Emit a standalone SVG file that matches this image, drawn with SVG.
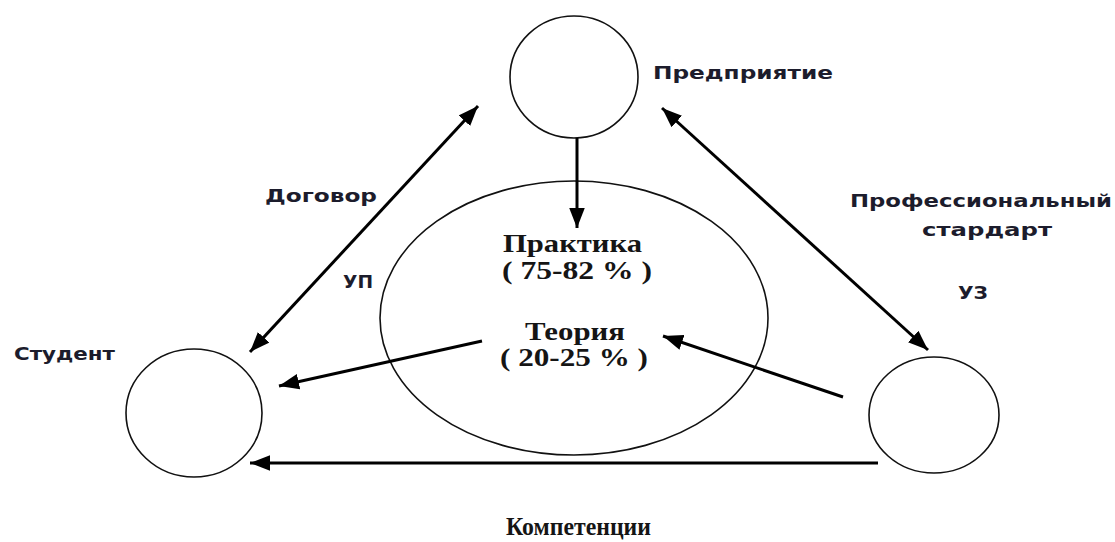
<svg xmlns="http://www.w3.org/2000/svg" width="1115" height="542" viewBox="0 0 1115 542">
<defs>
<style>
.s{font-family:"DejaVu Sans","Noto Sans",sans-serif;font-weight:bold;font-size:17px;fill:#1c1c2c}
.r{font-family:"Liberation Serif","DejaVu Serif",serif;font-weight:bold;font-size:25px;fill:#151515}
.c{fill:none;stroke:#111;stroke-width:1.6}
.a{stroke:#000;stroke-width:3;fill:none}
</style>
<marker id="ah" markerUnits="userSpaceOnUse" markerWidth="20" markerHeight="16" refX="18" refY="7" orient="auto-start-reverse" viewBox="0 0 18 14">
<path d="M0,0 L18,7 L0,14 z" fill="#000"/>
</marker>
</defs>
<rect width="1115" height="542" fill="#fff"/>
<g id="node-enterprise">
<ellipse class="c" cx="574" cy="77" rx="64" ry="61"/>
<text class="s" x="653" y="79" textLength="180" lengthAdjust="spacingAndGlyphs">Предприятие</text>
</g>
<g id="node-center">
<ellipse class="c" cx="574" cy="318" rx="194" ry="137"/>
<text class="r" x="503" y="252" textLength="139" lengthAdjust="spacingAndGlyphs">Практика</text>
<text class="r" x="502" y="279" textLength="150" lengthAdjust="spacingAndGlyphs">( 75-82 % )</text>
<text class="r" x="525" y="340" textLength="100" lengthAdjust="spacingAndGlyphs">Теория</text>
<text class="r" x="500" y="366" textLength="148" lengthAdjust="spacingAndGlyphs">( 20-25 % )</text>
</g>
<g id="node-student">
<ellipse class="c" cx="194" cy="413" rx="68" ry="64"/>
<text class="s" x="14" y="360" textLength="101" lengthAdjust="spacingAndGlyphs">Студент</text>
</g>
<g id="node-uz">
<ellipse class="c" cx="934" cy="415" rx="65" ry="58"/>
<text class="s" x="958" y="299" textLength="30" lengthAdjust="spacingAndGlyphs">УЗ</text>
</g>
<g id="connectors">
<line class="a" x1="478" y1="106" x2="250" y2="352" marker-start="url(#ah)" marker-end="url(#ah)"/>
<line class="a" x1="662" y1="108" x2="928" y2="350" marker-start="url(#ah)" marker-end="url(#ah)"/>
<line class="a" x1="577" y1="138" x2="577" y2="228" marker-end="url(#ah)"/>
<line class="a" x1="482" y1="341" x2="279" y2="386" marker-end="url(#ah)"/>
<line class="a" x1="843" y1="397" x2="663" y2="336" marker-end="url(#ah)"/>
<line class="a" x1="878" y1="463" x2="250" y2="463" marker-end="url(#ah)"/>
</g>
<g id="labels">
<text class="s" x="265" y="202" textLength="112" lengthAdjust="spacingAndGlyphs">Договор</text>
<text class="s" x="343" y="288" textLength="30" lengthAdjust="spacingAndGlyphs">УП</text>
<text class="s" x="850" y="207" textLength="262" lengthAdjust="spacingAndGlyphs">Профессиональный</text>
<text class="s" x="922" y="236" textLength="130" lengthAdjust="spacingAndGlyphs">стардарт</text>
<text class="r" x="506" y="535" textLength="145" lengthAdjust="spacingAndGlyphs">Компетенции</text>
</g>
</svg>
